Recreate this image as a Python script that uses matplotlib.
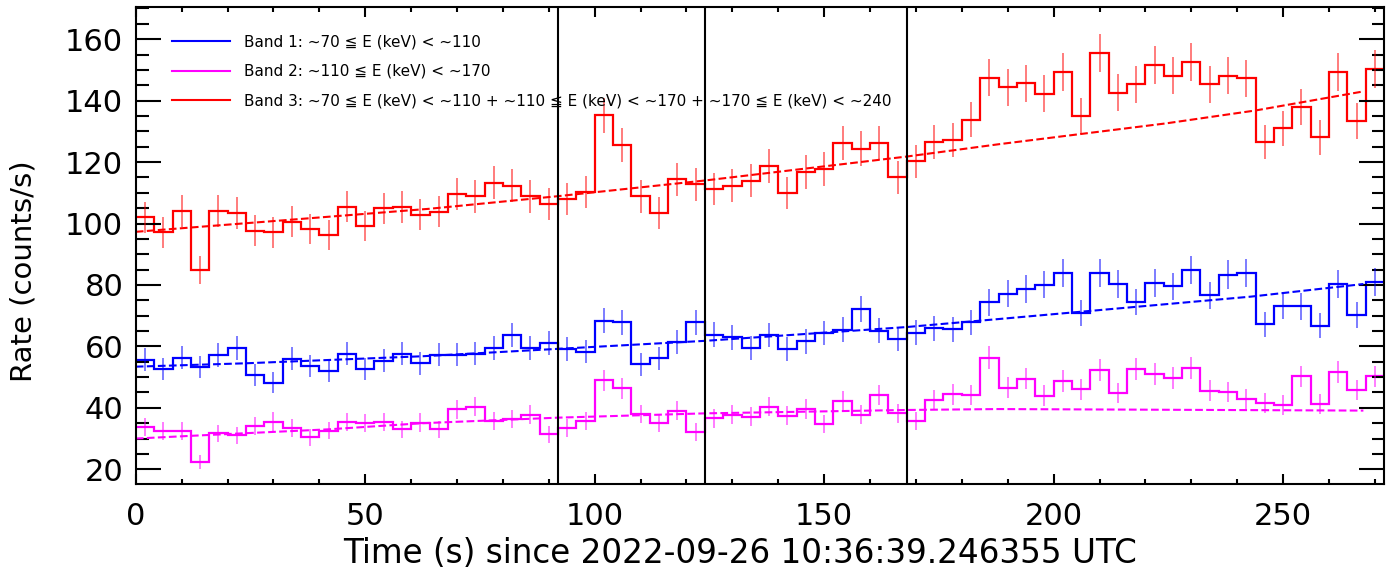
import matplotlib
matplotlib.use('Agg')
import matplotlib.pyplot as plt
from matplotlib.lines import Line2D
from matplotlib.ticker import MultipleLocator
import numpy as np

# 4 s bins from 0 to 272 s
bin_width = 4.0
edges = np.arange(0, 272 + bin_width, bin_width)

band1 = [55.6, 52.6, 56.3, 53.2, 57.2, 59.4, 50.7, 48.2, 56.0, 53.6, 52.0, 57.6, 52.6, 55.3, 57.6, 54.5,
         57.3, 57.3, 57.6, 59.4, 63.7, 59.4, 61.0, 59.2, 58.3, 68.4, 67.8, 54.2, 56.1, 61.4, 67.8, 63.8,
         62.9, 59.4, 63.7, 59.2, 61.6, 64.3, 65.4, 72.2, 65.1, 62.4, 64.5, 65.9, 65.6, 67.8, 74.3, 77.2,
         78.7, 80.1, 84.0, 70.8, 84.0, 80.3, 74.5, 80.6, 79.5, 84.9, 76.7, 83.4, 83.8, 67.2, 73.3, 73.0,
         66.7, 80.3, 70.3, 81.0]
band2 = [33.7, 32.5, 32.5, 22.3, 31.7, 31.0, 34.2, 35.5, 33.4, 30.4, 32.6, 35.3, 35.0, 35.4, 33.0, 35.2,
         33.0, 39.5, 40.4, 35.7, 36.4, 37.7, 31.4, 33.4, 35.8, 48.9, 46.4, 38.0, 35.0, 39.0, 32.1, 36.6,
         37.7, 37.1, 40.4, 37.5, 39.6, 34.7, 42.1, 37.7, 44.2, 38.2, 35.7, 42.4, 44.4, 44.2, 56.3, 46.6,
         49.5, 44.0, 48.8, 46.1, 52.3, 44.8, 52.6, 51.0, 49.8, 52.9, 45.6, 45.2, 42.9, 41.5, 41.0, 50.2,
         41.3, 51.8, 45.8, 50.2]
band3 = [102.1, 97.1, 104.1, 84.9, 104.1, 103.4, 97.7, 97.1, 100.6, 98.3, 96.2, 105.5, 99.2, 104.9, 105.3, 102.8,
         103.9, 109.7, 108.8, 113.3, 112.3, 108.8, 106.3, 107.9, 110.3, 135.2, 125.5, 108.8, 103.4, 114.4, 112.8, 111.2,
         112.3, 114.0, 118.8, 109.9, 116.8, 117.7, 126.2, 124.4, 126.2, 115.0, 120.2, 126.6, 127.2, 133.8, 147.5, 144.3,
         145.6, 142.3, 149.3, 135.1, 155.6, 142.6, 145.3, 151.6, 148.1, 152.5, 145.3, 148.1, 147.3, 126.5, 131.0, 138.0,
         128.0, 149.3, 133.4, 150.4]

# background fits (dashed)
bg1_t = [0, 24, 62.6, 92, 124, 168, 188, 243, 267.5]
bg1 = [53.4, 54.5, 56.8, 59.2, 61.8, 66.3, 68.9, 76.2, 80.3]
bg2_t = [0, 20.5, 42, 62.5, 92, 124, 168, 188, 267.5]
bg2 = [30.0, 31.5, 33.0, 35.0, 36.8, 38.2, 39.3, 39.6, 39.1]
bg3_t = [0, 33.5, 64, 92, 124, 168, 188, 224.5, 244, 267.5]
bg3 = [97.3, 101.2, 104.8, 108.9, 114.0, 121.8, 125.8, 132.6, 136.8, 143.0]

vlines = [92, 124, 168]

labels = ['Band 1: ~70 \u2266 E (keV) < ~110',
          'Band 2: ~110 \u2266 E (keV) < ~170',
          'Band 3: ~70 \u2266 E (keV) < ~110 + ~110 \u2266 E (keV) < ~170 + ~170 \u2266 E (keV) < ~240']
colors = ['#0000FF', '#FF00FF', '#FF0000']

plt.rcParams['font.family'] = ['DejaVu Sans']
fig = plt.figure(figsize=(14, 5.8), dpi=100)
ax = fig.add_axes([0.097, 0.1655, 0.8916, 0.822])

centers = edges[:-1] + bin_width / 2
for vals, bt, bv, c in [(band1, bg1_t, bg1, colors[0]),
                        (band2, bg2_t, bg2, colors[1]),
                        (band3, bg3_t, bg3, colors[2])]:
    vals = np.array(vals)
    err = np.sqrt(vals * bin_width) / bin_width  # Poisson errors
    ax.stairs(vals, edges, color=c, lw=1.6, baseline=None)
    ax.errorbar(centers, vals, yerr=err, fmt='none', ecolor=c, elinewidth=1.2, alpha=0.6)
    ax.plot(bt, bv, color=c, ls='--', lw=1.5)

for v in vlines:
    ax.axvline(v, color='black', lw=1.5)

ax.set_xlim(0, 272)
ax.set_ylim(15.2, 170.4)
ax.xaxis.set_major_locator(MultipleLocator(50))
ax.xaxis.set_minor_locator(MultipleLocator(10))
ax.yaxis.set_major_locator(MultipleLocator(20))
ax.yaxis.set_minor_locator(MultipleLocator(5))
ax.tick_params(axis='both', which='both', direction='in', top=True, right=True, width=1.5, labelsize=22)
ax.tick_params(axis='y', which='major', length=18, pad=9)
ax.tick_params(axis='y', which='minor', length=9)
ax.tick_params(axis='x', which='major', length=7, pad=13)
ax.tick_params(axis='x', which='minor', length=3.5)
for s in ax.spines.values():
    s.set_linewidth(1.5)

ax.set_xlabel('Time (s) since 2022-09-26 10:36:39.246355 UTC', fontsize=23.5)
ax.set_ylabel('Rate (counts/s)', fontsize=21)
ax.xaxis.set_label_coords(0.484, -0.112)
ax.yaxis.set_label_coords(-0.0785, 0.447)

handles = [Line2D([], [], color=c, lw=1.5) for c in colors]
ax.legend(handles, labels, loc='upper left', bbox_to_anchor=(0.0288, 0.943), frameon=False,
          fontsize=11, borderaxespad=0, borderpad=0, handlelength=3.8, handletextpad=0.92,
          labelspacing=0.95)

fig.savefig('out.png', dpi=100)
